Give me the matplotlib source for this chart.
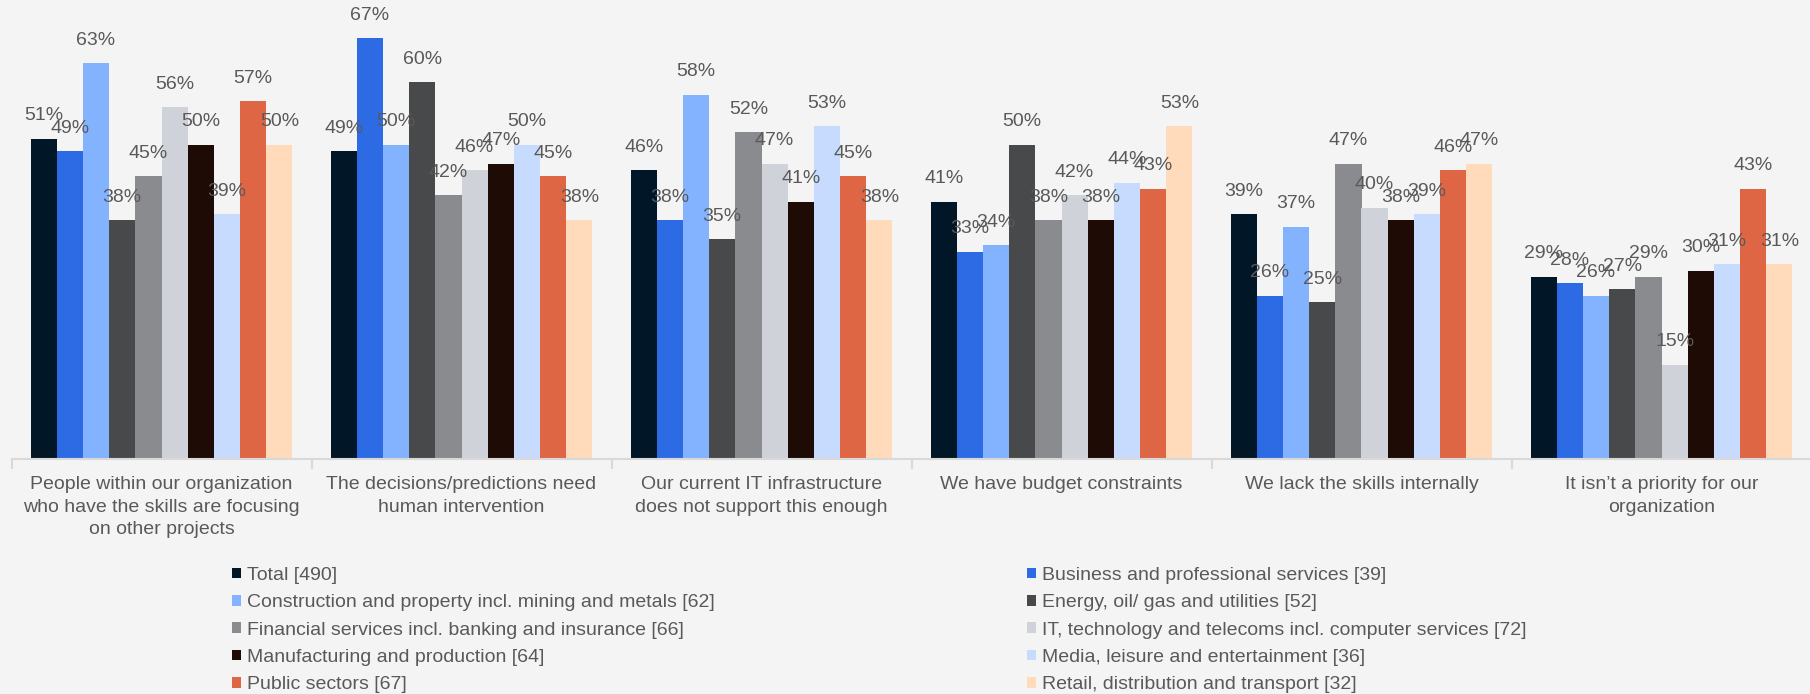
import matplotlib.pyplot as plt
import numpy as np

plt.rcParams['font.family'] = ['Liberation Sans', 'DejaVu Sans']

# categorias del eje x
categorias = [
    "People within our organization\nwho have the skills are focusing\non other projects",
    "The decisions/predictions need\nhuman intervention",
    "Our current IT infrastructure\ndoes not support this enough",
    "We have budget constraints",
    "We lack the skills internally",
    "It isn\u2019t a priority for our\norganization",
]

# series (% por sector)
series = [
    "Total [490]",
    "Business and professional services [39]",
    "Construction and property incl. mining and metals [62]",
    "Energy, oil/ gas and utilities [52]",
    "Financial services incl. banking and insurance [66]",
    "IT, technology and telecoms incl. computer services [72]",
    "Manufacturing and production [64]",
    "Media, leisure and entertainment [36]",
    "Public sectors [67]",
    "Retail, distribution and transport [32]",
]

total = [51, 49, 46, 41, 39, 29]
business = [49, 67, 38, 33, 26, 28]
construction = [63, 50, 58, 34, 37, 26]
energy = [38, 60, 35, 50, 25, 27]
financial = [45, 42, 52, 38, 47, 29]
it_tech = [56, 46, 47, 42, 40, 15]
manufacturing = [50, 47, 41, 38, 38, 30]
media = [39, 50, 53, 44, 39, 31]
public = [57, 45, 45, 43, 46, 43]
retail = [50, 38, 38, 53, 47, 31]

valores = [total, business, construction, energy, financial,
           it_tech, manufacturing, media, public, retail]

colores = ['#011627', '#2D6BE5', '#83B2FF', '#48494B', '#8A8B8E',
           '#CFD2D8', '#1E0B05', '#C6DBFD', '#DE6645', '#FFDABB']

fondo = '#F4F4F4'
gris_texto = '#595959'

fig = plt.figure(figsize=(18.1, 6.94), dpi=100, facecolor=fondo)
ax = fig.add_axes([11.5 / 1810, 1 - 459 / 694, 1800 / 1810, 459 / 694])
ax.set_facecolor(fondo)

x = np.arange(len(categorias))
n = len(series)
ancho = 0.873 / n

barras = []
for i in range(n):
    pos = x - 0.873 / 2 + ancho * (i + 0.5)
    b = ax.bar(pos, valores[i], width=ancho, color=colores[i], label=series[i])
    barras.append(b)
    for xi, v in zip(pos, valores[i]):
        ax.annotate(f"{v}%", (xi, v), xytext=(0, 23), textcoords='offset pixels',
                    ha='center', va='center', fontsize=14, color=gris_texto)

ax.set_xlim(-0.5, len(categorias) - 0.5)
ax.set_ylim(0, 459 / 6.28)

for lado in ['top', 'right', 'left']:
    ax.spines[lado].set_visible(False)
ax.spines['bottom'].set_color('#D9D9D9')
ax.spines['bottom'].set_linewidth(1.5)
ax.set_yticks([])

ax.set_xticks(x)
ax.set_xticklabels(categorias, fontsize=14, color=gris_texto, linespacing=1.42)
ax.tick_params(axis='x', which='major', length=0, pad=12.5)
ax.set_xticks(np.arange(-0.5, len(categorias)), minor=True)
ax.tick_params(axis='x', which='minor', length=7, width=1.5, color='#D9D9D9')

# leyenda en dos columnas (dos leyendas separadas)
izq = [barras[i] for i in (0, 2, 4, 6, 8)]
der = [barras[i] for i in (1, 3, 5, 7, 9)]
opciones = dict(loc='upper left', frameon=False, fontsize=14, handlelength=0.46,
                handleheight=0.46, handletextpad=0.3, labelspacing=0.53,
                borderpad=0, borderaxespad=0, labelcolor=gris_texto)
l1 = fig.legend(izq, [b.get_label() for b in izq],
                bbox_to_anchor=(232 / 1810, 1 - 567 / 694), **opciones)
l2 = fig.legend(der, [b.get_label() for b in der],
                bbox_to_anchor=(1027 / 1810, 1 - 567 / 694), **opciones)

fig.savefig('out.png', dpi=100, facecolor=fondo)
